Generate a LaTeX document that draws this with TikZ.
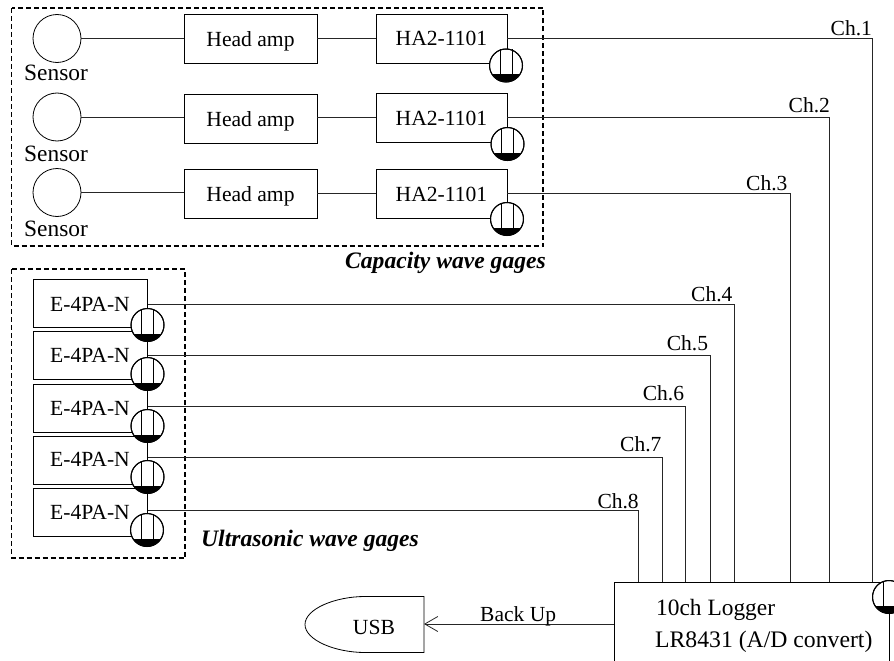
\documentclass[tikz,border=0pt]{standalone}
\usepackage{fontspec}
\setmainfont{Liberation Serif}
\usetikzlibrary{arrows.meta}
\tikzset{
  wire/.style={line width=0.8pt,draw=black!85},
  dashbox/.style={line width=1.5pt,dash pattern=on 5pt off 3pt},
  sensorc/.style={circle,draw,line width=0.8pt,minimum size=48pt,inner sep=0pt},
  gaugec/.style={circle,draw,line width=1pt,minimum size=33pt,inner sep=0pt},
  unitbox/.style={rectangle,draw,line width=0.8pt,inner sep=0pt,font=\fontsize{21.6}{24}\selectfont},
  headbox/.style={unitbox,minimum width=133pt,minimum height=49pt},
  habox/.style={unitbox,minimum width=131pt,minimum height=49pt},
  ebox/.style={unitbox,minimum width=114pt,minimum height=48pt},
  sensortxt/.style={anchor=base west,inner sep=0pt,font=\fontsize{23.4}{26}\selectfont},
  chtxt/.style={anchor=base west,inner sep=0pt,font=\fontsize{21.5}{24}\selectfont},
  captxt/.style={anchor=base west,inner sep=0pt,font=\fontsize{23.6}{26}\selectfont\bfseries\itshape},
}
\newcommand{\gaugeat}[3]{%
  \node[gaugec,fill=white] (#1) at (#2,#3) {};
  \begin{scope}
    \clip (#2,#3) circle (16.3pt);
    \fill (#2-17,#3+8.5) rectangle (#2+17,#3+17);
  \end{scope}
  \draw[line width=1pt] (#2-6,#3-16) -- (#2-6,#3+8.5) (#2+6,#3-16) -- (#2+6,#3+8.5);
  \node[gaugec] at (#1.center) {};
}
\newcommand{\bl}[2]{\raisebox{-#1pt}[0pt][0pt]{#2}}
\begin{document}
\begin{tikzpicture}[x=1pt,y=-1pt]
\useasboundingbox (0,0) rectangle (894,661);
\clip (0,0) rectangle (894,661);
% dashed groups
\draw[dashbox] (11.5,8) rectangle (543,246);
\draw[dashbox] (11.5,269) rectangle (185,558);
% sensors
\node[sensorc] (s1) at (57,38.5) {};
\node[sensorc] (s2) at (57,117) {};
\node[sensorc] (s3) at (57,192.5) {};
\node[sensortxt] (st1) at (24,81) {Sensor};
\node[sensortxt] (st2) at (24,161) {Sensor};
\node[sensortxt] (st3) at (24,236) {Sensor};
% head amps
\node[headbox] (h1) at (250.5,38.5) {\bl{8}{Head amp}};
\node[headbox] (h2) at (250.5,118.5) {\bl{7.5}{Head amp}};
\node[headbox] (h3) at (250.5,193.5) {\bl{8}{Head amp}};
% HA2
\node[habox] (a1) at (441.5,38.5) {\bl{7}{HA2-1101}};
\node[habox] (a2) at (441.5,117.5) {\bl{7.5}{HA2-1101}};
\node[habox] (a3) at (441.5,193.5) {\bl{7.5}{HA2-1101}};
% E-4PA
\node[ebox] (e1) at (90,303.5) {\bl{7.5}{E-4PA-N}};
\node[ebox] (e2) at (90,355) {\bl{7.7}{E-4PA-N}};
\node[ebox] (e3) at (90,408.5) {\bl{6.5}{E-4PA-N}};
\node[ebox] (e4) at (90,460) {\bl{6}{E-4PA-N}};
\node[ebox] (e5) at (90,512) {\bl{7.3}{E-4PA-N}};
% logger and usb
\node[rectangle,draw,line width=0.8pt,minimum width=275pt,minimum height=100pt,inner sep=0pt] (log) at (751.5,632) {};
\node[anchor=base west,inner sep=0pt,font=\fontsize{23.4}{26}\selectfont] (lt1) at (656,615) {10ch Logger};
\node[anchor=base west,inner sep=0pt,font=\fontsize{23.7}{26}\selectfont] (lt2) at (655,647) {LR8431 (A/D convert)};
\draw[line width=0.8pt] (424,596.5) -- (424,652.5) -- (365,652.5) .. controls (335,652.5) and (305,640) .. (305,624.5) .. controls (305,609) and (335,596.5) .. (365,596.5) -- cycle;
\node[anchor=base,inner sep=0pt,font=\fontsize{21.6}{24}\selectfont] (usb) at (374,634) {USB};
\coordinate (usbr) at (424,624);
\coordinate (logl) at (614,624);
\draw[wire,-{Straight Barb[length=13pt,width=15pt,line width=0.8pt]}] (logl) -- (usbr);
\node[chtxt] (bu) at (480,621) {Back Up};
% connectors
\draw[wire] (s1.east) -- (s1.east -| h1.west) (s2.east) -- (s2.east -| h2.west) (s3.east) -- (s3.east -| h3.west);
\draw[wire] (h1.east) -- (a1.west) (h2.east |- a2.west) -- (a2.west) (h3.east) -- (a3.west);
\coordinate (t1) at (872,582);
\coordinate (t2) at (829.5,582);
\coordinate (t3) at (790,582);
\coordinate (t4) at (734,582);
\coordinate (t5) at (710,582);
\coordinate (t6) at (685,582);
\coordinate (t7) at (662,582);
\coordinate (t8) at (638.7,582);
\draw[wire] (a1.east) -| (t1);
\draw[wire] (a2.east) -| (t2);
\draw[wire] (a3.east) -| (t3);
\coordinate (o4) at (148,304.5);
\coordinate (o5) at (148,355.3);
\coordinate (o6) at (148,406);
\coordinate (o7) at (148,457);
\coordinate (o8) at (148,510.7);
\draw[wire] (o4) -| (t4);
\draw[wire] (o5) -| (t5);
\draw[wire] (o6) -| (t6);
\draw[wire] (o7) -| (t7);
\draw[wire] (o8) -| (t8);
% channel labels
\node[chtxt] (c1) at (830.5,36) {Ch.1};
\node[chtxt] (c2) at (788.5,112.7) {Ch.2};
\node[chtxt] (c3) at (746,190) {Ch.3};
\node[chtxt] (c4) at (691,301.7) {Ch.4};
\node[chtxt] (c5) at (666.7,350.7) {Ch.5};
\node[chtxt] (c6) at (642.7,400.7) {Ch.6};
\node[chtxt] (c7) at (620,451.7) {Ch.7};
\node[chtxt] (c8) at (597.3,508) {Ch.8};
% captions
\node[captxt] (cap1) at (345,268) {Capacity wave gages};
\node[captxt] (cap2) at (201,546.7) {Ultrasonic wave gages};
% gauges
\gaugeat{g1}{506}{65.5}
\gaugeat{g2}{507.5}{144}
\gaugeat{g3}{507}{219}
\gaugeat{g4}{147.5}{325}
\gaugeat{g5}{147.5}{374}
\gaugeat{g6}{147.5}{426}
\gaugeat{g7}{147.5}{477}
\gaugeat{g8}{147}{530}
\gaugeat{g9}{889}{597}
\end{tikzpicture}
\end{document}
